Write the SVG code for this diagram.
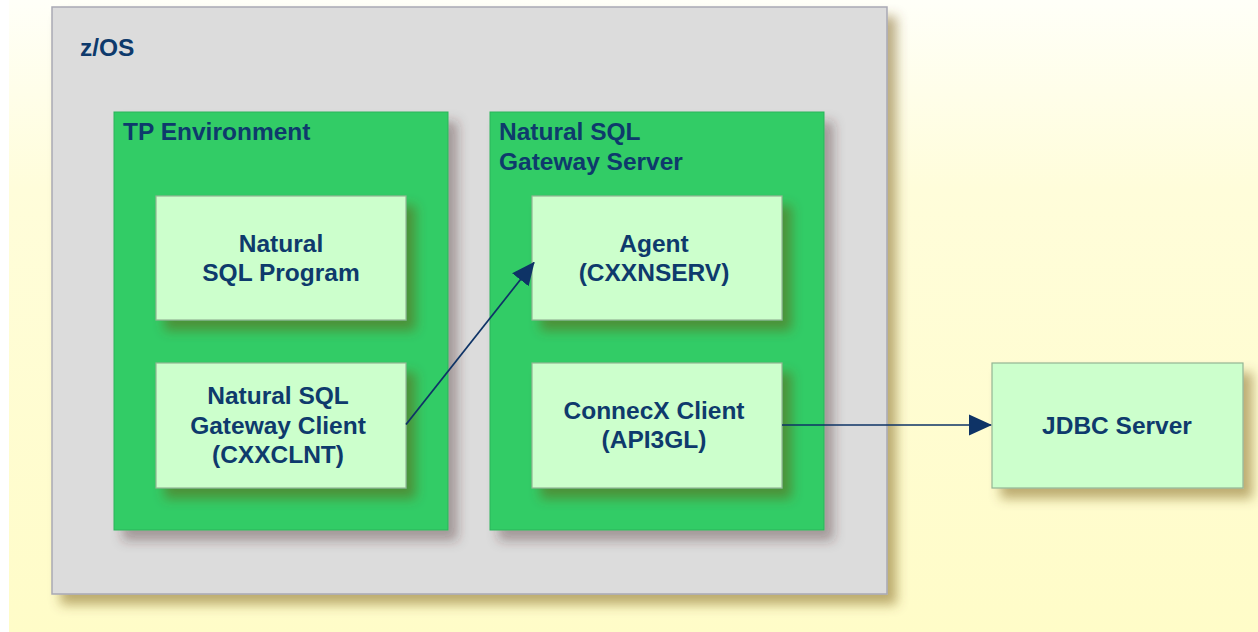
<svg xmlns="http://www.w3.org/2000/svg" width="1258" height="632" viewBox="0 0 1258 632">
<style>
  .t{font-family:"Liberation Sans",Arial,sans-serif;font-weight:bold;font-size:24.5px;fill:#0E3A6C}
  .c{text-anchor:middle}
  .os{fill:#DCDCDC;stroke:#A9A9B4;stroke-width:1.5}
  .env{fill:#33CC66;stroke:#2BB45A;stroke-width:1}
  .box{fill:#CCFFCC;stroke:#93B593;stroke-width:1.2}
  .conn{stroke:#0E3366;stroke-width:1.8;fill:none}
</style>
<defs>
  <linearGradient id="bg" x1="0" y1="0" x2="0" y2="1">
    <stop offset="0" stop-color="#FFFFF8"/>
    <stop offset="0.3" stop-color="#FFFDDA"/>
    <stop offset="1" stop-color="#FFFCC8"/>
  </linearGradient>
  <filter id="sh" x="-10%" y="-10%" width="130%" height="130%">
    <feDropShadow dx="9" dy="10" stdDeviation="6" flood-color="#6B4A10" flood-opacity="0.45"/>
  </filter>
  <filter id="sh2" x="-10%" y="-10%" width="130%" height="130%">
    <feDropShadow dx="9" dy="10" stdDeviation="6" flood-color="#4A2020" flood-opacity="0.38"/>
  </filter>
  <marker id="ah" markerUnits="userSpaceOnUse" markerWidth="23" markerHeight="23" viewBox="0 0 23 23" refX="22" refY="11.5" orient="auto">
    <path d="M0,1 L23,11.5 L0,22 Z" fill="#0E3366"/>
  </marker>
</defs>
<rect x="0" y="0" width="1258" height="632" fill="#FFFFFF"/>
<rect x="9" y="0" width="1249" height="632" fill="url(#bg)"/>

<g id="zos">
  <rect class="os" x="52" y="7" width="835" height="587" filter="url(#sh)"/>
  <text class="t" x="80" y="56">z/OS</text>
</g>

<g id="tp-env">
  <rect class="env" x="114" y="112" width="334" height="418" filter="url(#sh2)"/>
  <text class="t" x="123" y="140">TP Environment</text>
</g>

<g id="nsg-server">
  <rect class="env" x="490" y="112" width="334" height="418" filter="url(#sh2)"/>
  <text class="t" x="499" y="140">Natural SQL</text>
  <text class="t" x="499" y="170">Gateway Server</text>
</g>

<g id="natural-sql-program">
  <rect class="box" x="156" y="196" width="250" height="124" filter="url(#sh)"/>
  <text class="t c" x="281" y="252">Natural</text>
  <text class="t c" x="281" y="281">SQL Program</text>
</g>

<g id="nsg-client">
  <rect class="box" x="156" y="363" width="250" height="125" filter="url(#sh)"/>
  <text class="t c" x="278" y="404">Natural SQL</text>
  <text class="t c" x="278" y="433.5">Gateway Client</text>
  <text class="t c" x="278" y="463">(CXXCLNT)</text>
</g>

<g id="agent">
  <rect class="box" x="532" y="196" width="250" height="124" filter="url(#sh)"/>
  <text class="t c" x="654" y="252">Agent</text>
  <text class="t c" x="654" y="281">(CXXNSERV)</text>
</g>

<g id="connecx-client">
  <rect class="box" x="532" y="363" width="250" height="125" filter="url(#sh)"/>
  <text class="t c" x="654" y="419">ConnecX Client</text>
  <text class="t c" x="654" y="448">(API3GL)</text>
</g>

<g id="jdbc-server">
  <rect class="box" x="992" y="363" width="251" height="125" filter="url(#sh)"/>
  <text class="t c" x="1117" y="434">JDBC Server</text>
</g>

<g id="connectors">
  <line class="conn" x1="406" y1="424.5" x2="534" y2="262.5" marker-end="url(#ah)"/>
  <line class="conn" x1="782" y1="425" x2="991" y2="425" marker-end="url(#ah)" stroke-opacity="0.75"/>
</g>
</svg>
